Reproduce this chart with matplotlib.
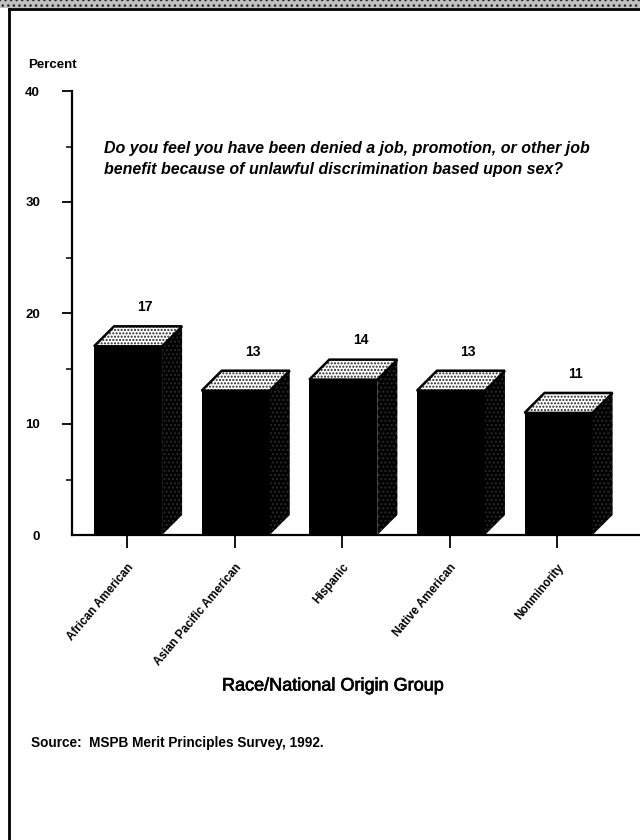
import matplotlib
matplotlib.use("Agg")
import matplotlib.pyplot as plt
import matplotlib.patheffects as pe
from matplotlib.patches import Polygon, Rectangle

plt.rcParams["font.family"] = ["Liberation Sans", "DejaVu Sans"]
plt.rcParams["hatch.linewidth"] = 1.0

groups = ["African American", "Asian Pacific American", "Hispanic", "Native American", "Nonminority"]
percent = [17, 13, 14, 13, 11]
y_ticks = [0, 10, 20, 30, 40]
y_minor = [5, 15, 25, 35]
question = ("Do you feel you have been denied a job, promotion, or other job\n"
            "benefit because of unlawful discrimination based upon sex?")
source = "Source:  MSPB Merit Principles Survey, 1992."

W, H = 640, 840
fig = plt.figure(figsize=(W / 100, H / 100), dpi=100, facecolor="white")

# full-figure pixel overlay for the page frame
page = fig.add_axes([0, 0, 1, 1], zorder=0)
page.set_xlim(0, W)
page.set_ylim(H, 0)
page.axis("off")
page.add_patch(Rectangle((0, 0), W, 8, facecolor="#c0c0c0", edgecolor="#222222", hatch="...", lw=0))
page.plot([9, W], [9, 9], color="black", lw=2)
page.plot([9, 9], [9, H], color="black", lw=2)

# axes box: x from 72 to 640 px, y from 535 to 91 px
ax = fig.add_axes([72 / W, 1 - 535 / H, (W - 72) / W, (535 - 91) / H], zorder=1)
ax.patch.set_alpha(0)
ax.set_xlim(-0.511, 4.767)
ax.set_ylim(0, 40)
for s in ("top", "right"):
    ax.spines[s].set_visible(False)
for s in ("left", "bottom"):
    ax.spines[s].set_linewidth(1.6)

bar_w = 0.632
dx, dy = 0.186, 1.8
shift = 0.01
for i, v in enumerate(percent):
    l, r = i - bar_w / 2 + shift, i + bar_w / 2 + shift
    ax.bar(i + shift, v, width=bar_w, color="black", zorder=3)
    ax.add_patch(Polygon([(r, 0), (r + dx, dy), (r + dx, v + dy), (r, v)],
                         facecolor="black", edgecolor="#2a2a2a", hatch="....", lw=0, zorder=3))
    ax.add_patch(Polygon([(l, v), (l + dx, v + dy), (r + dx, v + dy), (r, v)],
                         facecolor="white", edgecolor="#222222", hatch=".....", lw=0, zorder=4))
    ax.add_patch(Polygon([(l, v), (l + dx, v + dy), (r + dx, v + dy), (r, v)],
                         fill=False, edgecolor="black", lw=1.8, zorder=5))
    ax.text(i + 0.17, v + 2.9, str(v), ha="center", va="bottom", fontsize=10, fontweight="bold", zorder=6)

ax.set_yticks(y_ticks)
ax.set_yticks(y_minor, minor=True)
ax.tick_params(axis="y", which="major", length=7, width=1.3, pad=16, labelsize=9.5)
ax.tick_params(axis="y", which="minor", length=4, width=1.1)
ax.yaxis.get_major_ticks()[0].tick1line.set_visible(False)
for t in ax.get_yticklabels():
    t.set_fontweight("bold")

ax.set_xticks(range(len(groups)))
ax.set_xticklabels(groups, rotation=50, ha="right", rotation_mode="anchor",
                   fontsize=8.4, fontweight="bold")
ax.tick_params(axis="x", length=9, width=1.3, pad=10)

page.text(28, 65, "Percent", fontsize=9.5, fontweight="bold", va="center")
page.text(104, 159, question, fontsize=11.5, style="italic", fontweight="bold",
          va="center", linespacing=1.45)
page.text(222, 686, "Race/National Origin Group", fontsize=13, va="center",
          path_effects=[pe.withStroke(linewidth=0.5, foreground="black")])
page.text(31, 743, source, fontsize=9.8, fontweight="bold", va="center")

fig.savefig("out.png", dpi=100)
